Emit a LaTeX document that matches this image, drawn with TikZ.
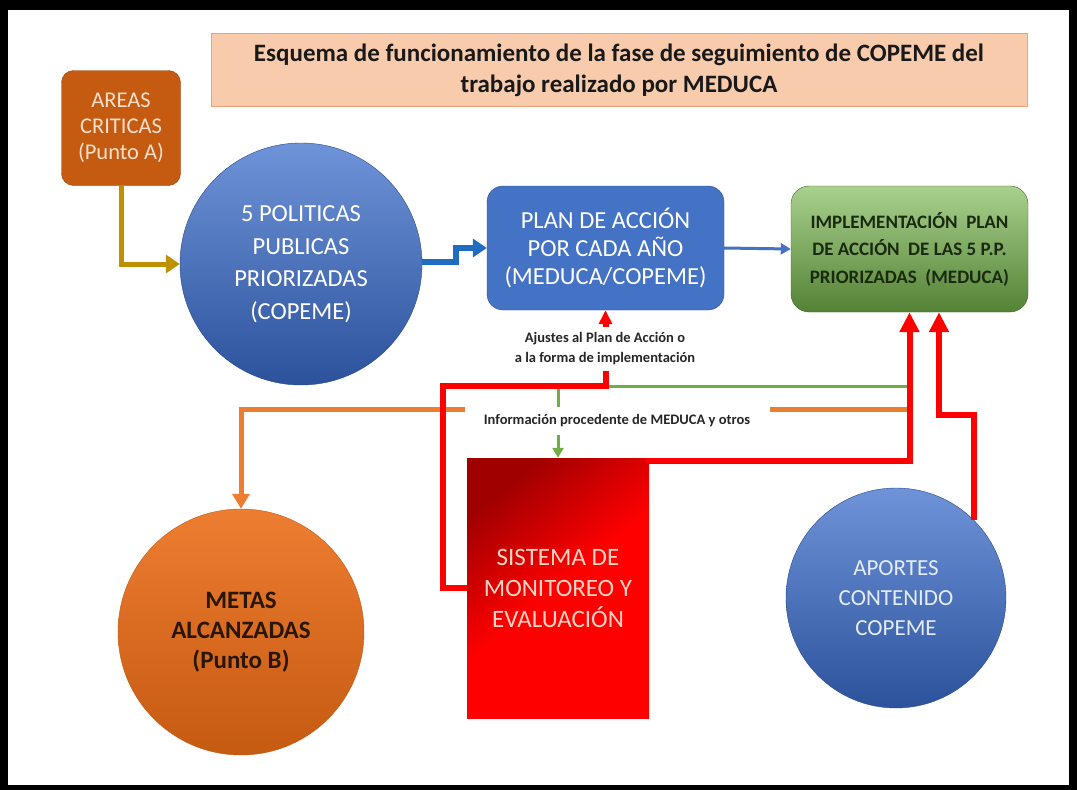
\documentclass[tikz,border=0pt]{standalone}
\usepackage{fontspec}
\setmainfont{Carlito}
\usetikzlibrary{arrows.meta}
\definecolor{titlefill}{HTML}{F8CBAD}
\definecolor{titledraw}{HTML}{EFA27A}
\definecolor{areasfill}{HTML}{C55A11}
\definecolor{areastext}{HTML}{FBE0CC}
\definecolor{goldc}{HTML}{BF9000}
\definecolor{bluetop}{HTML}{6E93D8}
\definecolor{bluebot}{HTML}{2C529C}
\definecolor{planfill}{HTML}{4472C4}
\definecolor{plandraw}{HTML}{2F528F}
\definecolor{stepblue}{HTML}{1F6DC0}
\definecolor{greentop}{HTML}{A9D18E}
\definecolor{greenbot}{HTML}{548235}
\definecolor{greentext}{HTML}{1A2A10}
\definecolor{orangec}{HTML}{ED7D31}
\definecolor{orangebot}{HTML}{C55A11}
\definecolor{greenline}{HTML}{70AD47}
\definecolor{redc}{HTML}{FF0000}
\definecolor{darkred}{HTML}{A00000}
\definecolor{pinktext}{HTML}{FAD4C4}
\definecolor{lightblue}{HTML}{E4ECF8}
\definecolor{metastext}{HTML}{2A1606}
\tikzset{
  bigtext/.style={font=\fontsize{23.5}{28}\selectfont, align=center},
  redline/.style={draw=redc, line width=6pt, -{Triangle[length=20pt,width=19pt]}},
  labelbox/.style={fill=white, inner sep=0pt, align=center, font=\bfseries\fontsize{14.5}{20}\selectfont, text=black!85},
}
\begin{document}
\begin{tikzpicture}[x=1pt,y=-1pt]
\fill[black] (0,0) rectangle (1077,790);
\fill[white] (8,10) rectangle (1069,785);
\useasboundingbox (0,0) rectangle (1077,790);

% title
\node[fill=titlefill, draw=titledraw, line width=0.8pt, minimum width=816pt, minimum height=73pt,
      align=center, font=\bfseries\fontsize{25}{31}\selectfont, text=black!90] (title) at (619,70)
  {Esquema de funcionamiento de la fase de seguimiento de COPEME del\\trabajo realizado por MEDUCA};

% areas criticas
\node[fill=areasfill, draw=areasfill!80!black, rounded corners=12pt, minimum width=119pt, minimum height=115pt,
      text=areastext, align=center, font=\fontsize{22.5}{26}\selectfont] (areas) at (121,128)
  {AREAS\\CRITICAS\\(Punto A)};

% politicas
\node[circle, minimum size=242pt, top color=bluetop, bottom color=bluebot, draw=bluebot!90!black,
      text=white, align=center, font=\fontsize{24.5}{32.5}\selectfont] (pol) at (301,264)
  {5 POLITICAS\\PUBLICAS\\PRIORIZADAS\\(COPEME)};

% plan
\node[fill=planfill, draw=plandraw, rounded corners=16pt, minimum width=237pt, minimum height=124pt,
      text=white, font=\fontsize{24.5}{28}\selectfont, align=center] (plan) at (605.5,248)
  {PLAN DE ACCIÓN\\POR CADA AÑO\\(MEDUCA/COPEME)};

% implementation
\node[top color=greentop, bottom color=greenbot, draw=greenbot!80!black, rounded corners=18pt,
      minimum width=237pt, minimum height=126pt, text=greentext, align=center,
      font=\bfseries\fontsize{19}{27.5}\selectfont] (impl) at (909.5,249)
  {IMPLEMENTACIÓN\ \ PLAN\\DE ACCIÓN\ \ DE LAS 5 P.P.\\PRIORIZADAS\ \ (MEDUCA)};

% sistema
\node[shading=axis, top color=darkred, bottom color=redc, middle color=redc, shading angle=40,
      minimum width=182pt, minimum height=260pt,
      text=pinktext, align=center, font=\fontsize{25}{31}\selectfont] (sis) at (558,588)
  {SISTEMA DE\\MONITOREO Y\\EVALUACIÓN};

% metas
\node[circle, minimum size=246pt, top color=orangec, bottom color=orangebot, draw=orangebot,
      text=metastext, align=center, font=\bfseries\fontsize{25}{30}\selectfont] (metas) at (241,632)
  {METAS\\ALCANZADAS\\(Punto B)};

% aportes
\node[circle, minimum size=220pt, top color=bluetop, bottom color=bluebot, draw=bluebot!90!black,
      text=lightblue, align=center, font=\fontsize{23}{30}\selectfont] (apo) at (896,598)
  {APORTES\\CONTENIDO\\COPEME};

% connectors
\draw[draw=goldc, line width=5pt, -{Triangle[length=14pt,width=18pt]}] (areas.south) |- (pol.west);
\coordinate (st1) at (456,262);
\coordinate (st2) at (456,248);
\draw[draw=stepblue, line width=6pt, -{Triangle[length=14pt,width=18pt]}] (pol.east |- st1) -- (st1) -- (st2) -- (plan.west);
\draw[draw=planfill, line width=3pt, -{Triangle[length=10pt,width=11pt]}] (plan.east) -- (impl.west);

\coordinate (o1) at (908,409);
\draw[draw=orangec, line width=5pt, -{Triangle[length=15pt,width=17pt]}] (o1) -| (metas.north);
\coordinate (g1) at (910,386);
\draw[draw=greenline, line width=3pt, -{Triangle[length=10pt,width=11pt]}] (g1) -| (sis.north);

\node[labelbox, minimum width=305pt, minimum height=28pt] (info) at (617,421)
  {Información procedente de MEDUCA y otros};

\coordinate (r1) at (443,386);
\draw[draw=redc, line width=6pt, -{Triangle[length=14pt,width=13pt]}] (sis.west) -| (r1) -| (plan.south);
\node[labelbox, minimum width=240pt, minimum height=44pt] (ajus) at (605,349)
  {Ajustes al Plan de Acción o\\a la forma de implementación};

\coordinate (s2) at (646,461);
\draw[redline] (s2) -| (impl.south);
\coordinate (r3) at (939,415);
\draw[redline] (apo.north east) |- (r3) -- (r3 |- impl.south);
\end{tikzpicture}
\end{document}
